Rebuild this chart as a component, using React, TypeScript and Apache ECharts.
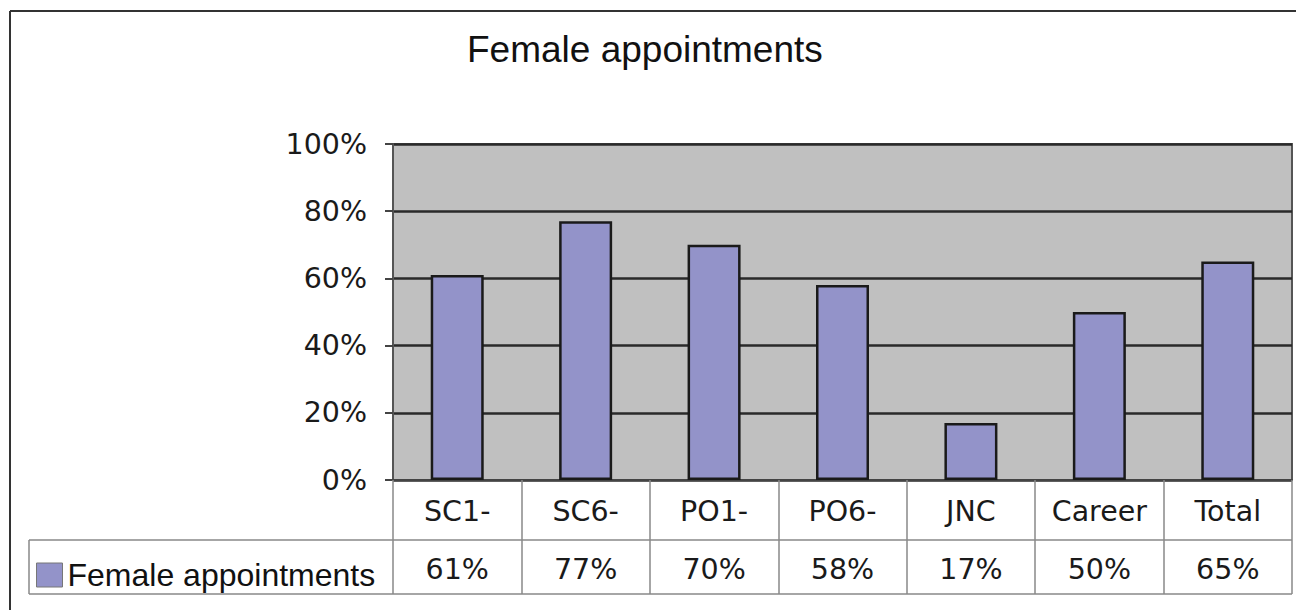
import React, { useEffect, useRef } from "react";
import * as echarts from "echarts";

const title = "Female appointments";
const seriesName = "Female appointments";
const categories = ["SC1-", "SC6-", "PO1-", "PO6-", "JNC", "Career", "Total"];
const values = [61, 77, 70, 58, 17, 50, 65];
const yTicks = { min: 0, max: 100, interval: 20 };

export default function App() {
  const ref = useRef<HTMLDivElement>(null);
  useEffect(() => {
    if (!ref.current) return;
    const chart = echarts.init(ref.current, null, { renderer: "svg" });
    const tableFont = "DejaVu Sans";
    chart.setOption({
      animation: false,
      backgroundColor: "#ffffff",
      title: {
        text: title,
        left: 467,
        top: 31,
        padding: 0,
        textStyle: {
          fontFamily: "Liberation Sans",
          fontSize: 37,
          fontWeight: "normal",
          color: "#111",
        },
      },
      legend: {
        left: 36,
        top: 559,
        padding: 0,
        itemWidth: 26,
        itemHeight: 24,
        icon: "rect",
        data: [seriesName],
        itemStyle: { borderColor: "#777", borderWidth: 1 },
        textStyle: {
          fontFamily: "Liberation Sans",
          fontSize: 32,
          color: "#111",
          padding: [2, 0, 0, 0],
        },
      },
      grid: {
        left: 393,
        right: 4,
        top: 144,
        bottom: 130,
        show: true,
        backgroundColor: "#c0c0c0",
        borderColor: "#555",
        borderWidth: 2,
      },
      xAxis: {
        type: "category",
        data: categories,
        axisLine: { show: true, lineStyle: { color: "#444", width: 2 } },
        axisTick: {
          show: true,
          alignWithLabel: false,
          interval: 0,
          length: 114,
          lineStyle: { color: "#888", width: 1.5 },
        },
        axisLabel: {
          interval: 0,
          margin: 2,
          formatter: (v: string, i: number) => `{c|${v}}\n{v|${values[i]}%}`,
          rich: {
            c: {
              fontFamily: tableFont,
              fontSize: 28.5,
              color: "#1a1a1a",
              lineHeight: 58,
              height: 58,
            },
            v: {
              fontFamily: tableFont,
              fontSize: 28.5,
              color: "#1a1a1a",
              lineHeight: 58,
              height: 58,
            },
          },
        },
      },
      yAxis: {
        type: "value",
        min: yTicks.min,
        max: yTicks.max,
        interval: yTicks.interval,
        axisLine: { show: true, lineStyle: { color: "#555", width: 2 } },
        axisTick: { show: true, length: 8, lineStyle: { color: "#444", width: 2 } },
        axisLabel: {
          formatter: "{value}%",
          margin: 26,
          fontFamily: tableFont,
          fontSize: 28.5,
          color: "#1a1a1a",
        },
        splitLine: { show: true, lineStyle: { color: "#2a2a2a", width: 2.5 } },
      },
      series: [
        {
          name: seriesName,
          type: "bar",
          data: values,
          barWidth: 53,
          itemStyle: { color: "#9393c9", borderColor: "#1a1a1a", borderWidth: 2.5 },
        },
      ],
      graphic: [
        {
          type: "line",
          shape: { x1: 10, y1: 11, x2: 1296, y2: 11 },
          style: { stroke: "#333", lineWidth: 2 },
          silent: true,
        },
        {
          type: "line",
          shape: { x1: 10, y1: 11, x2: 10, y2: 610 },
          style: { stroke: "#333", lineWidth: 2 },
          silent: true,
        },
        {
          type: "line",
          shape: { x1: 29, y1: 540, x2: 1292, y2: 540 },
          style: { stroke: "#888", lineWidth: 1.5 },
          silent: true,
        },
        {
          type: "line",
          shape: { x1: 29, y1: 594, x2: 1292, y2: 594 },
          style: { stroke: "#888", lineWidth: 1.5 },
          silent: true,
        },
        {
          type: "line",
          shape: { x1: 29, y1: 540, x2: 29, y2: 594 },
          style: { stroke: "#888", lineWidth: 1.5 },
          silent: true,
        },
      ],
    });
    return () => chart.dispose();
  }, []);
  return (
    <div
      ref={ref}
      style={{ position: "absolute", left: 0, top: 0, width: 1296, height: 610 }}
    />
  );
}
